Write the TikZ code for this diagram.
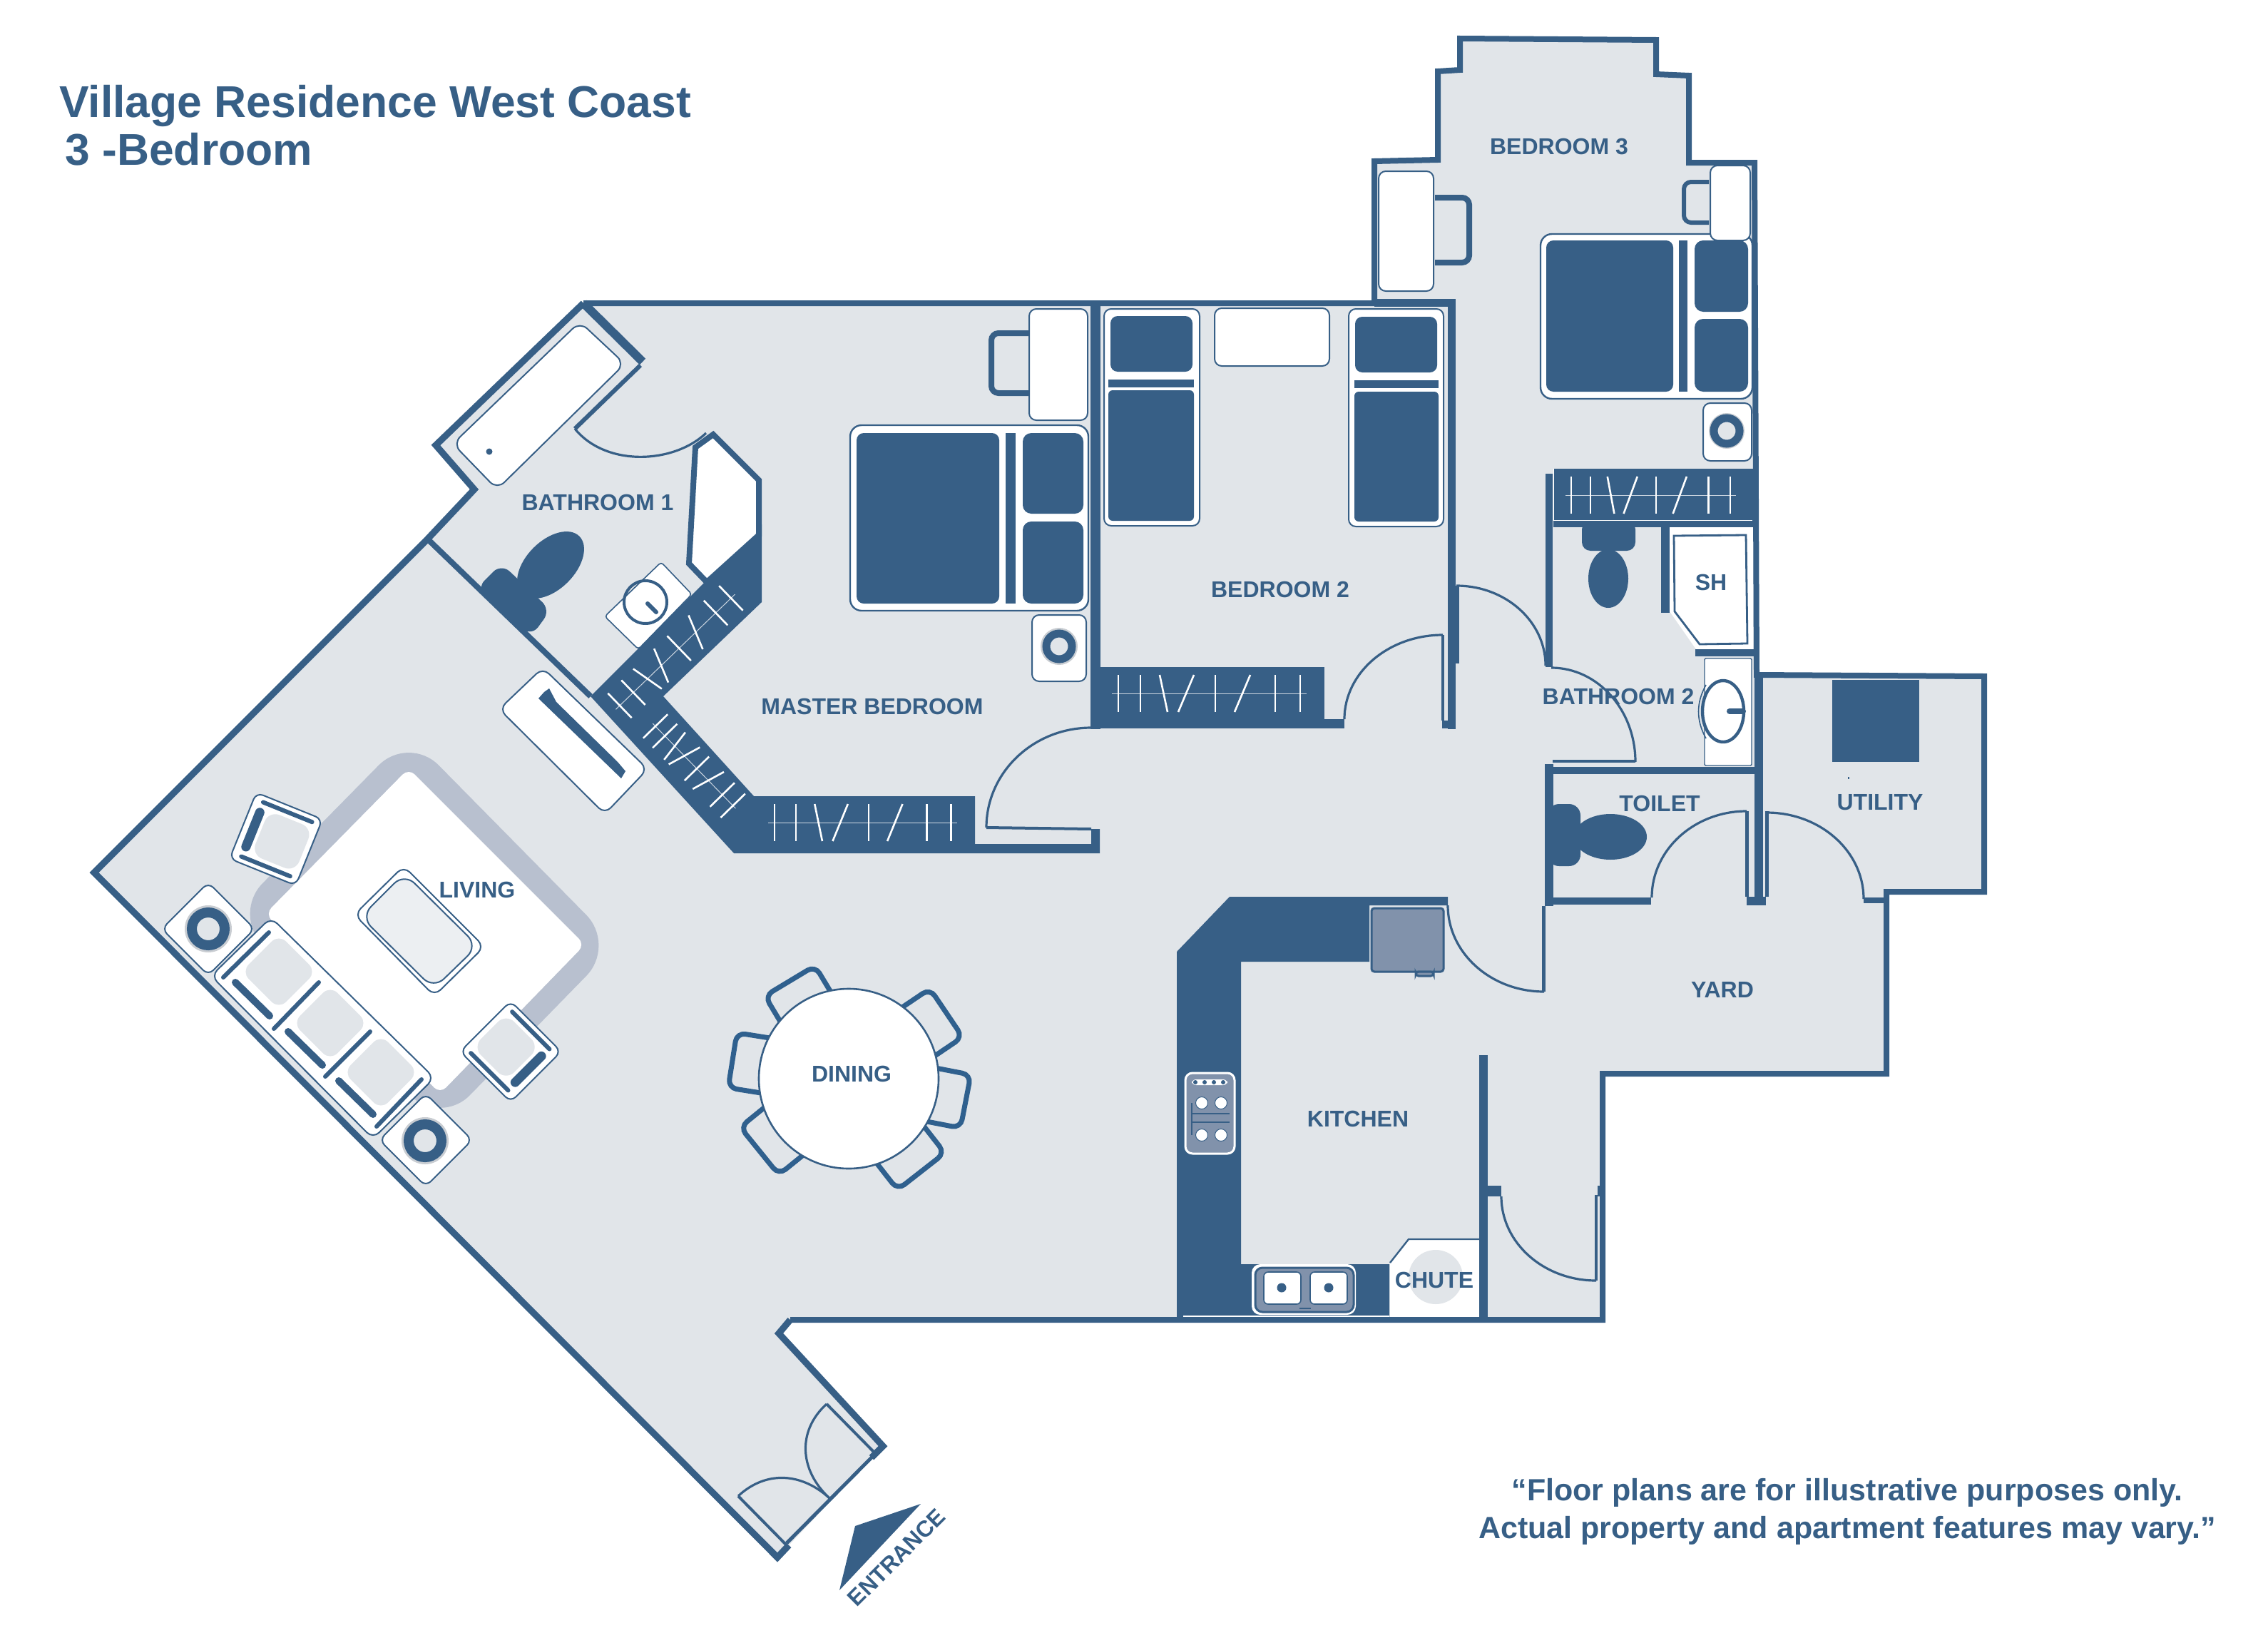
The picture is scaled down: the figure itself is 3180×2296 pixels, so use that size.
\documentclass[tikz,border=0pt]{standalone}
\usepackage{fontspec}
\setmainfont{Liberation Sans}
\definecolor{wall}{HTML}{375F86}
\definecolor{floorc}{HTML}{E1E5E9}
\definecolor{rugc}{HTML}{B8C0CF}
\definecolor{appl}{HTML}{8192AB}
\definecolor{halo}{HTML}{C9CDD2}
\definecolor{tablec}{HTML}{ECEFF2}
\definecolor{chairc}{HTML}{2F608E}
\newcommand{\lbl}[1]{\fontsize{16pt}{18pt}\selectfont\bfseries #1}
\newcommand{\closetbars}[5]{%
 \begin{scope}[shift={(#1,#2)},rotate=#3]
  \draw[barthin] (-9*#4,0) -- (264*#4,0);
  \draw[barw] (0,-#5) -- (0,#5);
  \draw[barw] (31*#4,-#5) -- (31*#4,#5);
  \draw[barw] (58*#4,-#5) -- (69*#4,#5);
  \draw[barw] (106*#4,-#5) -- (84*#4,#5);
  \draw[barw] (136*#4,-#5) -- (136*#4,#5);
  \draw[barw] (185*#4,-#5) -- (163*#4,#5);
  \draw[barw] (220*#4,-#5) -- (220*#4,#5);
  \draw[barw] (255*#4,-#5) -- (255*#4,#5);
 \end{scope}}
\newcommand{\lamp}[2]{%
 \fill[halo] (#1,#2) circle (33);
 \draw[wall,line width=7pt,fill=floorc] (#1,#2) circle (23);}
\newcommand{\smalllamp}[2]{%
 \fill[halo] (#1,#2) circle (26);
 \draw[wall,line width=5.5pt,fill=floorc] (#1,#2) circle (18);}
\newcommand{\armchair}[3]{%
 \begin{scope}[shift={(#1,#2)},rotate=#3]
  \draw[furn] (-50,-50) rectangle (50,50);
  \fill[floorc,rounded corners=8] (-24,-33) rectangle (42,33);
  \draw[wall,line width=3pt,line cap=round] (-36,-41) -- (38,-41);
  \draw[wall,line width=3pt,line cap=round] (-36,41) -- (38,41);
  \draw[wall,line width=6.5pt,line cap=round] (-35,-26) -- (-35,26);
 \end{scope}}
\newcommand{\diningchair}[3]{%
 \begin{scope}[shift={(1190,1512)},rotate=#1]
  \draw[chairc,line width=3.5pt,fill=floorc,rounded corners=6] (-#2+3,-96) rectangle (#2-3,-#3);
 \end{scope}}
\tikzset{
 barw/.style={white,line width=1.3pt},
 barthin/.style={white!75!wall,line width=0.5pt},
 furn/.style={draw=wall,line width=1pt,fill=white,rounded corners=5},
 wallthick/.style={draw=wall,line width=4pt,line join=miter},
 leaf/.style={draw=wall,line width=2pt},
 arcline/.style={draw=wall,line width=1.6pt},
 roomlabel/.style={text=wall,inner sep=0pt}
}
\begin{document}
\begin{tikzpicture}[x=0.5pt,y=-0.5pt]
\useasboundingbox (0,0) rectangle (3180,2296);
% floor
\fill[floorc] (818,425) -- (1927,425) -- (1927,226) -- (2016,224) -- (2016,100) -- (2047,98) -- (2047,54) -- (2322,56) -- (2322,104) -- (2368,106) -- (2368,228) -- (2460,228) -- (2463,946) -- (2782,948) -- (2782,1250) -- (2645,1250) -- (2645,1505) -- (2247,1505) -- (2247,1850) -- (1108,1850) -- (1092,1869) -- (1238,2027) -- (1090,2183) -- (132,1223) -- (600,755) -- (665,686) -- (611,624) -- cycle;
% rug
\fill[rugc,rounded corners=30] (573,1030) -- (864,1325) -- (617,1578) -- (326,1281) -- cycle;
\fill[white,rounded corners=6] (573,1077) -- (820,1324) -- (617,1533) -- (372,1281) -- cycle;
% coffee table
\draw[furn,rounded corners=6] (566,1214) -- (679,1327) -- (609,1396) -- (497,1282) -- cycle;
\draw[draw=wall,line width=1pt,fill=tablec,rounded corners=10] (567,1224) -- (670,1326) -- (608,1386) -- (506,1285) -- cycle;
% armchairs and side tables
\armchair{387}{1176}{-22}
\armchair{716}{1474}{135}
\begin{scope}[shift={(292,1302)},rotate=45]
 \draw[furn] (-46,-46) rectangle (46,46);
\end{scope}
\begin{scope}[shift={(597,1598)},rotate=45]
 \draw[furn] (-46,-46) rectangle (46,46);
\end{scope}
\lamp{292}{1302}
\lamp{596}{1599}
% sofa
\draw[furn,rounded corners=6] (380,1286) -- (609,1511) -- (523,1596) -- (296,1368) -- cycle;
\foreach \sx/\sy in {391/1362,463/1434,534/1503}{
 \begin{scope}[shift={(\sx,\sy)},rotate=-45]
  \fill[floorc,rounded corners=7] (-37,-37) rectangle (37,37);
 \end{scope}}
\draw[wall,line width=3pt,line cap=round] (313,1370) -- (377,1307);
\draw[wall,line width=3pt,line cap=round] (384,1442) -- (447,1377);
\draw[wall,line width=3pt,line cap=round] (456,1509) -- (519,1446);
\draw[wall,line width=3pt,line cap=round] (528,1579) -- (591,1513);
\draw[wall,line width=5pt,line cap=round] (330,1377) -- (378,1424);
\draw[wall,line width=5pt,line cap=round] (404,1446) -- (452,1493);
\draw[wall,line width=5pt,line cap=round] (475,1515) -- (523,1562);
% tv unit
\draw[furn,rounded corners=6] (761,936) -- (908,1078) -- (848,1141) -- (700,994) -- cycle;
\fill[wall] (763,970) -- (770,965) -- (780,984) -- (866,1068) -- (877,1081) -- (871,1091) -- (755,979) -- cycle;
% dining
\diningchair{31}{44}{160}
\diningchair{-56}{44}{165}
\diningchair{-101}{41}{167}
\diningchair{-142}{45}{165}
\diningchair{129}{46}{161}
\diningchair{81}{42}{165}
\draw[draw=wall,line width=1.3pt,fill=white] (1190,1512) circle (126);
% bath 1 tub
\draw[furn,rounded corners=7] (813,451) -- (876,510) -- (697,686) -- (635,622) -- cycle;
\fill[wall] (686,633) circle (4.5);
\draw[arcline] (806,601) .. controls (850,655) and (945,650) .. (990,607);
% bath 1 vanity + closets
\fill[wall] (991,813) -- (1058,747) -- (1068,735) -- (1068,844) -- (930,976) -- (1057,1116) -- (1367,1116) -- (1367,1183) -- (1530,1183) -- (1530,1162) -- (1542,1162) -- (1542,1196) -- (1029,1196) -- (828,976) -- cycle;
\draw[wall,fill=white,line width=4pt,line join=miter] (975,627) -- (1000,609) -- (1064,673) -- (1064,750) -- (991,816) -- (966,790) -- cycle;
\draw[furn,rounded corners=2,line width=0.8pt] (927,788) -- (970,833) -- (895,910) -- (848,864) -- cycle;
\draw[wall,line width=2pt] (905,844) circle (30);
\draw[wall,line width=3pt,line cap=round] (908,846) -- (920,858);
\closetbars{869}{989}{44}{0.85}{24}
\closetbars{919}{1018}{-45.7}{0.61}{24}
\closetbars{1086}{1153}{0}{0.97}{26}
% toilet bath 1
\fill[wall,rounded corners=8] (703,790) -- (772,855) -- (745,892) -- (668,825) -- cycle;
\begin{scope}[shift={(772,792)},rotate=45]
 \fill[wall] (0,0) ellipse (57 and 34);
\end{scope}
% master bedroom furniture
\draw[furn] (1443,433) rectangle (1525,589);
\draw[wall,line width=4pt,rounded corners=5] (1443,467) -- (1390,467) -- (1390,551) -- (1443,551);
\draw[furn,line width=1.2pt,rounded corners=8] (1192,596) rectangle (1526,856);
\fill[wall,rounded corners=5] (1201,607) rectangle (1401,846);
\fill[wall] (1410,607) rectangle (1424,846);
\fill[wall,rounded corners=6] (1434,607) rectangle (1519,720);
\fill[wall,rounded corners=6] (1434,731) rectangle (1519,846);
\draw[furn] (1447,862) rectangle (1523,955);
\smalllamp{1485}{906}
% bedroom 2 furniture
\draw[furn] (1548,433) rectangle (1682,737);
\fill[wall,rounded corners=5] (1557,443) rectangle (1672,521);
\fill[wall] (1554,532) rectangle (1674,543);
\fill[wall,rounded corners=3] (1554,547) rectangle (1674,730);
\draw[furn] (1891,433) rectangle (2024,738);
\fill[wall,rounded corners=5] (1900,444) rectangle (2015,522);
\fill[wall] (1899,533) rectangle (2017,544);
\fill[wall,rounded corners=3] (1899,549) rectangle (2017,731);
\draw[furn] (1703,432) rectangle (1864,513);
% bedroom 3 furniture
\draw[furn] (1933,240) rectangle (2010,408);
\draw[wall,line width=4pt,rounded corners=5] (2012,277) -- (2060,277) -- (2060,368) -- (2012,368);
\draw[furn,line width=1.2pt,rounded corners=8] (2160,328) rectangle (2457,559);
\fill[wall,rounded corners=5] (2168,337) rectangle (2346,549);
\fill[wall] (2354,337) rectangle (2366,549);
\fill[wall,rounded corners=6] (2376,337) rectangle (2451,437);
\fill[wall,rounded corners=6] (2376,447) rectangle (2451,549);
\draw[wall,line width=3pt,rounded corners=5] (2396,255) -- (2361,255) -- (2361,312) -- (2396,312);
\draw[furn] (2398,232) rectangle (2454,337);
\draw[furn] (2388,565) rectangle (2456,646);
\fill[halo] (2421,604) circle (25);
\draw[wall,line width=5.5pt,fill=floorc] (2421,604) circle (18);
% closets
\fill[wall] (1529,935) rectangle (1857,1021);
\fill[wall] (2178,657) rectangle (2459,739);
\draw[white,line width=0.5pt] (2178,657) -- (2178,729) -- (2457,729);
\closetbars{2203}{694}{0}{0.875}{26}
\closetbars{1568}{972}{0}{1}{26}
% shower
\fill[white] (2341,739) -- (2458,739) -- (2458,910) -- (2378,910) -- (2341,857) -- cycle;
\draw[wall,line width=1.4pt] (2347,751) -- (2448,750) -- (2450,902) -- (2383,903) -- (2348,857) -- cycle;
\fill[wall] (2329,739) rectangle (2341,859);
\fill[wall] (2377,910) rectangle (2459,920);
% vanity bath 2
\draw[furn,rounded corners=1,line width=0.7pt] (2390,923) rectangle (2456,1073);
\draw[wall,line width=0.8pt] (2392,960) .. controls (2378,985) and (2378,1010) .. (2392,1035);
\draw[wall,line width=2.2pt,fill=white] (2416,997) ellipse (29 and 43);
\draw[wall,line width=4pt,line cap=round] (2425,997) -- (2444,997);
% toilets
\fill[wall,rounded corners=6] (2218,730) rectangle (2293,772);
\fill[wall] (2255,811) ellipse (28 and 41);
\fill[wall,rounded corners=8] (2170,1127) rectangle (2216,1214);
\fill[wall] (2258,1173) ellipse (51 and 32);
% utility
\fill[wall] (2569,953) rectangle (2691,1068);
\fill[wall] (2591,1089) rectangle (2593,1092);
% kitchen
\fill[wall] (1724,1257) -- (2030,1257) -- (2030,1269) -- (1920,1269) -- (1920,1348) -- (1740,1348) -- (1740,1772) -- (1948,1772) -- (1948,1848) -- (1650,1848) -- (1650,1334) -- cycle;
\draw[draw=wall,line width=1.5pt,fill=appl,rounded corners=2] (1923,1273) rectangle (2024,1362);
\draw[draw=wall,line width=1.5pt,fill=appl,rounded corners=2] (1985,1362) rectangle (2010,1368);
\draw[white,line width=1.5pt,fill=appl,rounded corners=5] (1662,1504) rectangle (1731,1617);
\fill[white,rounded corners=3] (1671,1513) rectangle (1721,1521);
\foreach \kx in {1676,1689,1702,1715}{\fill[wall] (\kx,1517) circle (3);}
\foreach \bx/\by in {1685/1546,1712/1546,1685/1591,1712/1591}{\draw[wall,line width=0.5pt,fill=white] (\bx,\by) circle (8.5);}
\draw[wall,line width=1pt] (1671,1546) -- (1671,1591);
\draw[wall,line width=1pt] (1671,1561) -- (1724,1561);
\draw[wall,line width=1pt] (1671,1573) -- (1724,1573);
\fill[white,rounded corners=6] (1755,1772) rectangle (1901,1843);
\draw[draw=wall,line width=1.5pt,fill=appl,rounded corners=5] (1760,1777) rectangle (1898,1839);
\draw[draw=wall,line width=0.8pt,fill=white,rounded corners=3] (1772,1783) rectangle (1824,1828);
\draw[draw=wall,line width=0.8pt,fill=white,rounded corners=3] (1837,1783) rectangle (1889,1828);
\fill[wall] (1797,1805) circle (6.5);
\fill[wall] (1863,1805) circle (6.5);
\draw[wall,line width=1pt] (1822,1834) -- (1838,1834);
\fill[white] (1975,1737) -- (2074,1737) -- (2074,1846) -- (1949,1846) -- (1949,1770) -- cycle;
\draw[wall,line width=1.2pt] (1949,1770) -- (1975,1737) -- (2074,1737);
\fill[floorc] (2013,1790) circle (38);
\draw[white,line width=0.8pt] (1659,1845) -- (1948,1845);
% walls
\draw[wallthick] (1108,1850) -- (2247,1850) -- (2247,1505) -- (2645,1505) -- (2645,1250) -- (2782,1250) -- (2782,948) -- (2463,946) -- (2460,228) -- (2368,228) -- (2368,106) -- (2322,104) -- (2322,56) -- (2047,54) -- (2047,98) -- (2016,100) -- (2016,224) -- (1927,226) -- (1927,425) -- (818,425);
\draw[wallthick,line width=4.6pt] (818,425) -- (611,624) -- (665,686) -- (600,755) -- (132,1223) -- (1090,2183) -- (1106,2166);
\draw[wallthick,line width=4.6pt] (1108,1850) -- (1092,1869) -- (1238,2027) -- (1222,2043);
\draw[wall,line width=2.5pt] (1225,2040) -- (1103,2163);
\draw[wall,line width=6pt] (818,425) -- (901,507);
\draw[wall,line width=3pt] (898,512) -- (806,601);
\draw[wall,line width=4pt] (601,757) -- (828,976);
% interior wall blocks
\fill[wall] (1927,419) rectangle (2041,430);
\fill[wall] (1529,425) rectangle (1543,1022);
\fill[wall] (1857,1008) rectangle (1885,1021);
\fill[wall] (2030,425) rectangle (2041,1022);
\fill[wall] (2022,1010) rectangle (2041,1021);
\fill[wall] (2041,821) rectangle (2046,930);
\fill[wall] (2167,664) rectangle (2177,935);
\fill[wall] (2166,1071) rectangle (2178,1270);
\fill[wall] (2167,1075) rectangle (2462,1085);
\fill[wall] (2460,943) rectangle (2472,1267);
\fill[wall] (2447,1137) rectangle (2452,1257);
\fill[wall] (2475,1137) rectangle (2480,1257);
\fill[wall] (2449,1257) rectangle (2476,1269);
\fill[wall] (2177,1258) rectangle (2315,1268);
\fill[wall] (2613,1258) rectangle (2643,1266);
\fill[wall] (2162,1270) rectangle (2167,1390);
\fill[wall] (2074,1479) rectangle (2086,1846);
\fill[wall] (2086,1662) rectangle (2105,1677);
\fill[wall] (2236,1675) rectangle (2240,1795);
\fill[wall] (2240,1662) rectangle (2250,1677);
% doors
\draw[leaf] (1383,1160) -- (1530,1162);
\draw[arcline] (1383,1160) arc[start angle=180,end angle=270,x radius=147,y radius=140];
\draw[arcline] (1885,1008) arc[start angle=180,end angle=270,x radius=138,y radius=118];
\fill[wall] (2021,890) rectangle (2025,1010);
\draw[arcline] (2042,821) arc[start angle=270,end angle=360,x radius=125,y radius=112];
\draw[arcline] (2175,936) arc[start angle=270,end angle=360,x radius=118,y radius=132];
\draw[leaf] (2177,1067) -- (2293,1067);
\draw[arcline] (2316,1258) arc[start angle=180,end angle=270,x radius=133,y radius=121];
\draw[arcline] (2477,1139) arc[start angle=270,end angle=360,x radius=136,y radius=121];
\draw[arcline] (2030,1269) arc[start angle=180,end angle=90,x radius=135,y radius=121];
\draw[arcline] (2105,1677) arc[start angle=180,end angle=90,x radius=133,y radius=118];
\draw[leaf] (1159,1968) -- (1225,2035);
\draw[leaf] (1035,2097) -- (1102,2165);
\draw[arcline] (1159,1968) .. controls (1118,2005) and (1120,2060) .. (1163,2100);
\draw[arcline] (1035,2097) .. controls (1075,2060) and (1125,2065) .. (1163,2100);
% entrance arrow
\fill[wall] (1291,2108) -- (1199,2139) -- (1177,2229) -- cycle;
% texts
\node[roomlabel,anchor=base west] (title1) at (83,164) {\fontsize{31.2pt}{36pt}\selectfont\bfseries Village Residence West Coast};
\node[roomlabel,anchor=base west] (title2) at (91,231) {\fontsize{31.2pt}{36pt}\selectfont\bfseries 3 -Bedroom};
\node[roomlabel] (bath1) at (838,704) {\lbl{BATHROOM 1}};
\node[roomlabel] (master) at (1223,990) {\lbl{MASTER BEDROOM}};
\node[roomlabel] (bed2) at (1795,826) {\lbl{BEDROOM 2}};
\node[roomlabel] (bed3) at (2186,206) {\lbl{BEDROOM 3}};
\node[roomlabel] (bath2) at (2269,976) {\lbl{BATHROOM 2}};
\node[roomlabel] (sh) at (2399,816) {\lbl{SH}};
\node[roomlabel] (toilet) at (2327,1126) {\lbl{TOILET}};
\node[roomlabel] (utility) at (2636,1125) {\lbl{UTILITY}};
\node[roomlabel] (yard) at (2415,1387) {\lbl{YARD}};
\node[roomlabel] (kitchen) at (1904,1568) {\lbl{KITCHEN}};
\node[roomlabel] (chute) at (2011,1794) {\lbl{CHUTE}};
\node[roomlabel] (living) at (669,1247) {\lbl{LIVING}};
\node[roomlabel] (dining) at (1194,1505) {\lbl{DINING}};
\node[roomlabel,rotate=45] (entrance) at (1257,2183) {\fontsize{16pt}{18pt}\selectfont\bfseries ENTRANCE};
\node[roomlabel] (note1) at (2590,2092) {\fontsize{21.5pt}{26pt}\selectfont\bfseries “Floor plans are for illustrative purposes only.};
\node[roomlabel] (note2) at (2590,2145) {\fontsize{21.5pt}{26pt}\selectfont\bfseries Actual property and apartment features may vary.”};
\end{tikzpicture}
\end{document}
